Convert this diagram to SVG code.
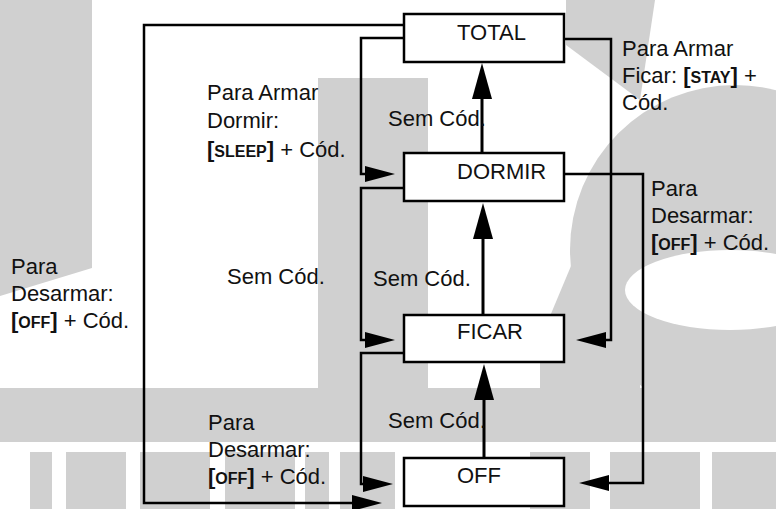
<svg xmlns="http://www.w3.org/2000/svg" width="776" height="509" viewBox="0 0 776 509">
<style>
.wm{fill:#d0d0d0;stroke:none}
.box{fill:#fff;stroke:#000;stroke-width:2.5}
.c{fill:none;stroke:#000;stroke-width:2.5}
.cv{fill:none;stroke:#000;stroke-width:3}
text{font-family:"Liberation Sans",Arial,sans-serif;font-size:22px;fill:#111}
.b{font-weight:bold}
.k{font-weight:bold;font-size:16px}
</style>
<defs>
<marker id="av" viewBox="0 0 36 20" refX="0" refY="10" markerWidth="36" markerHeight="20" markerUnits="userSpaceOnUse" orient="auto"><path d="M0,0L36,10L0,20z" fill="#000"/></marker>
<marker id="ah" viewBox="0 0 30 16" refX="0" refY="8" markerWidth="30" markerHeight="16" markerUnits="userSpaceOnUse" orient="auto"><path d="M0,0L30,8L0,16z" fill="#000"/></marker>
</defs>
<rect width="776" height="509" fill="#fff"/>
<g id="watermark">
<polygon class="wm" points="0,0 92,0 92,268 0,296"/>
<rect class="wm" x="318" y="78" width="110" height="320"/>
<polygon class="wm" points="566,0 655,0 640,100 566,45"/>
<circle class="wm" cx="735" cy="250" r="165"/>
<polygon class="wm" points="607,180 640,180 640,392 540,392 540,340"/>
<ellipse cx="730" cy="290" rx="105" ry="40" fill="#fff"/>
<rect class="wm" x="0" y="388" width="776" height="54"/>
<rect class="wm" x="30" y="452" width="22" height="57"/>
<rect class="wm" x="66" y="452" width="60" height="57"/>
<rect class="wm" x="140" y="452" width="70" height="57"/>
<rect class="wm" x="225" y="452" width="70" height="57"/>
<rect class="wm" x="305" y="452" width="24" height="57"/>
<rect class="wm" x="340" y="452" width="55" height="57"/>
<rect class="wm" x="530" y="452" width="60" height="57"/>
<rect class="wm" x="610" y="452" width="90" height="57"/>
<rect class="wm" x="712" y="452" width="64" height="57"/>
</g>
<g id="connectors">
<path class="cv" d="M482,153V99" marker-end="url(#av)"/>
<path class="cv" d="M483,315V239" marker-end="url(#av)"/>
<path class="cv" d="M484,458V400" marker-end="url(#av)"/>
<path class="c" d="M404,38H361V174H365" marker-end="url(#ah)"/>
<path class="c" d="M404,188H361V340H365" marker-end="url(#ah)"/>
<path class="c" d="M404,353H361V484H363" marker-end="url(#ah)"/>
<path class="c" d="M404,25H144V503H352" marker-end="url(#ah)"/>
<path class="c" d="M564,39H611V340H606" marker-end="url(#ah)"/>
<path class="c" d="M564,174H643V483H609" marker-end="url(#ah)"/>
</g>
<g id="node-total"><rect class="box" x="404" y="14" width="160" height="48"/><text x="457" y="40">TOTAL</text></g>
<g id="node-dormir"><rect class="box" x="404" y="153" width="160" height="48"/><text x="457" y="179">DORMIR</text></g>
<g id="node-ficar"><rect class="box" x="404" y="315" width="160" height="47"/><text x="457" y="339">FICAR</text></g>
<g id="node-off"><rect class="box" x="404" y="458" width="160" height="48"/><text x="457" y="483">OFF</text></g>
<g id="labels">
<text x="207" y="100">Para Armar</text>
<text x="207" y="128">Dormir:</text>
<text x="207" y="157"><tspan class="b">[</tspan><tspan class="k">SLEEP</tspan><tspan class="b">]</tspan> + Cód.</text>
<text x="622" y="56">Para Armar</text>
<text x="622" y="83">Ficar: <tspan class="b">[</tspan><tspan class="k">STAY</tspan><tspan class="b">]</tspan> +</text>
<text x="622" y="110">Cód.</text>
<text x="651" y="196">Para</text>
<text x="651" y="223">Desarmar:</text>
<text x="651" y="250"><tspan class="b">[</tspan><tspan class="k">OFF</tspan><tspan class="b">]</tspan> + Cód.</text>
<text x="11" y="274">Para</text>
<text x="11" y="301">Desarmar:</text>
<text x="11" y="328"><tspan class="b">[</tspan><tspan class="k">OFF</tspan><tspan class="b">]</tspan> + Cód.</text>
<text x="208" y="430">Para</text>
<text x="208" y="457">Desarmar:</text>
<text x="208" y="484"><tspan class="b">[</tspan><tspan class="k">OFF</tspan><tspan class="b">]</tspan> + Cód.</text>
<text x="227" y="284">Sem Cód.</text>
<text x="388" y="126">Sem Cód.</text>
<text x="373" y="286">Sem Cód.</text>
<text x="388" y="428">Sem Cód.</text>
</g>
</svg>
